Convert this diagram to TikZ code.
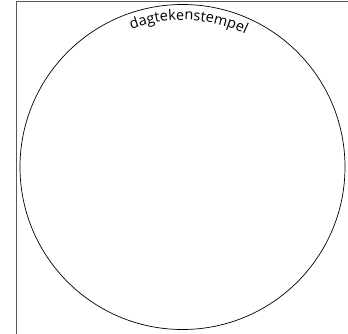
\documentclass[tikz,border=0pt]{standalone}
\usepackage{fontspec}
\setmainfont{Open Sans}
\usetikzlibrary{decorations.text}
\begin{document}
\begin{tikzpicture}[x=1pt,y=1pt,
  frame/.style={draw=black!65, line width=0.9pt},
  stampcircle/.style={circle, draw=black, line width=0.7pt, minimum size=325pt, inner sep=0pt}]
\useasboundingbox (0,0) rectangle (348,333);
\draw[frame] (16,-10) -- (16,332) -- (360,332);
\node[stampcircle] (stamp) at (182.5,166) {};
\path[decorate, decoration={text along path, text align=center,
  text={|\fontsize{14.5}{17}\selectfont|dagtekenstempel}}]
  ([shift={(124:147)}]stamp.center) arc[start angle=124, end angle=51, radius=147];
\end{tikzpicture}
\end{document}
